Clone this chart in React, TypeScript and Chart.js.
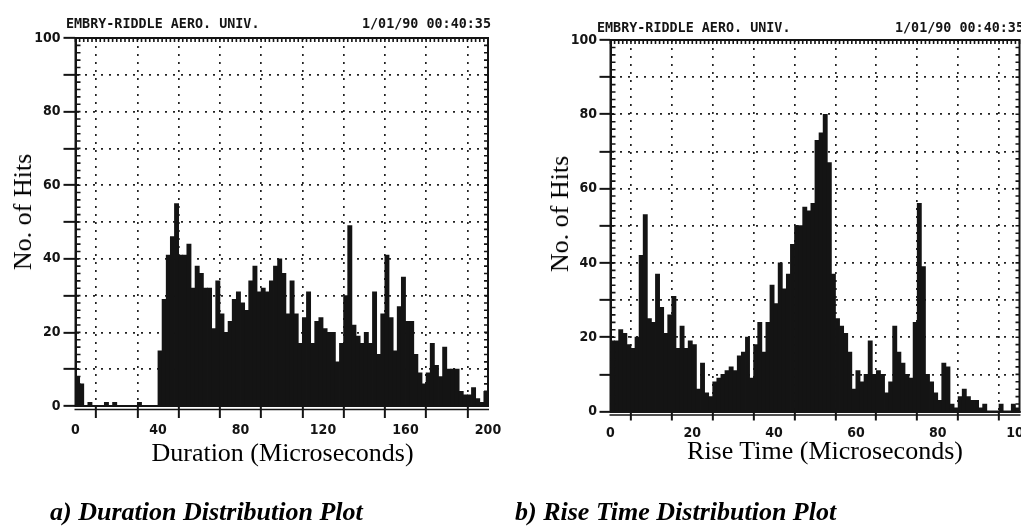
import React, { useEffect, useRef } from "react";
import { Chart, registerables } from "chart.js";

Chart.register(...registerables);

// ---------- data ----------
const headerLeftText = "EMBRY-RIDDLE AERO. UNIV.";
const headerDateText = "1/01/90 00:40:35";

// Duration histogram: 100 bins of 2 microseconds, 0..200
const durationBinWidth = 2;
const durationCounts = [
  8, 6, 0, 1, 0, 0, 0, 1, 0, 1,
  0, 0, 0, 0, 0, 1, 0, 0, 0, 0,
  15, 29, 41, 46, 55, 41, 41, 44, 32, 38,
  36, 32, 32, 21, 34, 25, 20, 23, 29, 31,
  28, 26, 34, 38, 31, 32, 31, 34, 38, 40,
  36, 25, 34, 25, 17, 24, 31, 17, 23, 24,
  21, 20, 20, 12, 17, 30, 49, 22, 19, 17,
  20, 17, 31, 14, 25, 41, 24, 15, 27, 35,
  23, 23, 14, 9, 6, 9, 17, 11, 8, 16,
  10, 10, 10, 4, 3, 3, 5, 2, 1, 4,
];
const durationXMax = 200;
const durationGridStep = 20;
const durationLabelStep = 40;

// Rise time histogram: 100 bins of 1 microsecond, 0..100
const riseBinWidth = 1;
const riseCounts = [
  19, 19, 22, 21, 18, 17, 20, 42, 53, 25,
  24, 37, 28, 21, 26, 31, 17, 23, 17, 19,
  18, 6, 13, 5, 4, 8, 9, 10, 11, 12,
  11, 15, 16, 20, 9, 18, 24, 16, 24, 34,
  29, 40, 33, 37, 45, 50, 50, 55, 54, 56,
  73, 75, 80, 67, 37, 25, 23, 21, 16, 6,
  11, 8, 10, 19, 10, 11, 10, 5, 8, 23,
  16, 13, 10, 9, 24, 56, 39, 10, 8, 5,
  3, 13, 12, 2, 1, 4, 6, 4, 3, 3,
  1, 2, 0, 0, 0, 2, 0, 0, 2, 1,
];
const riseXMax = 100;
const riseGridStep = 10;
const riseLabelStep = 20;

const yMax = 100;
const yGridStep = 10;
const yLabelStep = 20;

const yTitle = "No. of Hits";
const durationTitle = "Duration (Microseconds)";
const riseTitle = "Rise Time (Microseconds)";
const captionA = "a) Duration Distribution Plot";
const captionB = "b) Rise Time Distribution Plot";

// ---------- styling ----------
const INK = "#141414";
const tickFont = { family: "'DejaVu Sans Condensed', 'DejaVu Sans Mono', monospace", size: 14, weight: "bold" as const };

type Frame = { left: number; right: number; top: number; bottom: number };

const framePlugin = {
  id: "frame",
  afterDatasetsDraw(chart: any, _args: any, opts: any) {
    const { ctx, chartArea: a, scales } = chart;
    const x = scales.x;
    const y = scales.y;
    ctx.save();
    ctx.strokeStyle = INK;
    ctx.lineWidth = 2;
    ctx.strokeRect(a.left, a.top, a.right - a.left, a.bottom - a.top);
    ctx.lineWidth = 1.5;
    ctx.beginPath();
    ctx.moveTo(a.left - 1, a.bottom + 3.5);
    ctx.lineTo(a.right + 1, a.bottom + 3.5);
    ctx.stroke();
    ctx.lineWidth = 1.6;
    ctx.beginPath();
    for (let v = y.min; v <= y.max; v += opts.minorY) {
      const py = y.getPixelForValue(v);
      ctx.moveTo(a.left, py);
      ctx.lineTo(a.left + 5, py);
      ctx.moveTo(a.right - 4, py);
      ctx.lineTo(a.right, py);
    }
    for (let v = x.min; v <= x.max; v += opts.minorX) {
      const px = x.getPixelForValue(v);
      ctx.moveTo(px, a.top);
      ctx.lineTo(px, a.top + 4);
    }
    ctx.stroke();
    ctx.restore();
  },
};

function buildConfig(
  counts: number[],
  binWidth: number,
  xMax: number,
  xStep: number,
  xLabelStep: number,
  canvasW: number,
  canvasH: number,
  f: Frame,
  yTick: { len: number; pad: number },
  xTick: { len: number; pad: number },
  minorX: number
): any {
  const data = counts.map((c, i) => ({ x: i * binWidth + binWidth / 2, y: c }));
  return {
    type: "bar",
    data: {
      datasets: [
        {
          data,
          backgroundColor: INK,
          borderWidth: 0,
          barPercentage: 1,
          categoryPercentage: 1,
          inflateAmount: 0.4,
        },
      ],
    },
    options: {
      animation: false,
      responsive: false,
      events: [],
      layout: { padding: { left: 0, top: f.top, right: canvasW - f.right, bottom: 0 } },
      plugins: {
        legend: { display: false },
        tooltip: { enabled: false },
        frame: { minorX, minorY: 2 },
      },
      scales: {
        x: {
          type: "linear",
          min: 0,
          max: xMax,
          offset: false,
          afterFit: (s: any) => {
            s.height = canvasH - f.bottom;
          },
          ticks: {
            stepSize: xStep,
            autoSkip: false,
            maxRotation: 0,
            minRotation: 0,
            padding: xTick.pad,
            color: INK,
            font: tickFont,
            callback: (v: any) => (Number(v) % xLabelStep === 0 ? String(v) : ""),
          },
          grid: {
            color: "#222",
            lineWidth: 1.7,
            drawTicks: true,
            tickLength: xTick.len,
            tickWidth: 2,
            tickColor: INK,
          },
          border: { display: true, color: INK, width: 2, dash: [2, 6] },
        },
        y: {
          type: "linear",
          min: 0,
          max: yMax,
          afterFit: (s: any) => {
            s.width = f.left;
          },
          ticks: {
            stepSize: yGridStep,
            autoSkip: false,
            padding: yTick.pad,
            color: INK,
            font: tickFont,
            callback: (v: any) => (Number(v) % yLabelStep === 0 ? String(v) : ""),
          },
          grid: {
            color: "#222",
            lineWidth: 1.7,
            drawTicks: true,
            tickLength: yTick.len,
            tickWidth: 2,
            tickColor: INK,
          },
          border: { display: true, color: INK, width: 2, dash: [2, 6] },
        },
      },
    },
    plugins: [framePlugin],
  };
}

function ChartCanvas(props: { left: number; width: number; height: number; config: any }) {
  const ref = useRef<HTMLCanvasElement | null>(null);
  useEffect(() => {
    if (!ref.current) return;
    const chart = new Chart(ref.current, props.config);
    return () => chart.destroy();
  }, []);
  return (
    <canvas
      ref={ref}
      width={props.width}
      height={props.height}
      style={{ position: "absolute", left: props.left, top: 0, width: props.width, height: props.height }}
    />
  );
}

const monoHeader: React.CSSProperties = {
  position: "absolute",
  fontFamily: "'DejaVu Sans Mono', monospace",
  fontWeight: "bold",
  fontSize: 13.4,
  lineHeight: "14px",
  color: INK,
  whiteSpace: "nowrap",
};

const serifTitle: React.CSSProperties = {
  position: "absolute",
  fontFamily: "'Liberation Serif', 'Times New Roman', serif",
  fontSize: 26,
  lineHeight: "28px",
  color: "#000",
  whiteSpace: "nowrap",
  transform: "translate(-50%, -50%)",
};

const captionStyle: React.CSSProperties = {
  position: "absolute",
  fontFamily: "'Liberation Serif', 'Times New Roman', serif",
  fontSize: 26,
  fontWeight: "bold",
  fontStyle: "italic",
  lineHeight: "30px",
  color: "#000",
  whiteSpace: "nowrap",
};

export default function App() {
  const H = 531;
  const leftW = 510;
  const rightLeft = 510;
  const rightW = 530;

  const leftConfig = buildConfig(
    durationCounts,
    durationBinWidth,
    durationXMax,
    durationGridStep,
    durationLabelStep,
    leftW,
    H,
    { left: 75.5, right: 488, top: 38, bottom: 406 },
    { len: 12, pad: 3 },
    { len: 12, pad: 4 },
    2
  );
  const rightConfig = buildConfig(
    riseCounts,
    riseBinWidth,
    riseXMax,
    riseGridStep,
    riseLabelStep,
    rightW,
    H,
    { left: 100.5, right: 509.5, top: 40, bottom: 411.5 },
    { len: 11, pad: 2.5 },
    { len: 9, pad: 4.5 },
    1
  );

  return (
    <div style={{ position: "absolute", left: 0, top: 0, width: 1021, height: 531, overflow: "hidden", background: "#fff" }}>
      <ChartCanvas left={0} width={leftW} height={H} config={leftConfig} />
      <ChartCanvas left={rightLeft} width={rightW} height={H} config={rightConfig} />

      <div style={{ ...monoHeader, left: 66, top: 17 }}>{headerLeftText}</div>
      <div style={{ ...monoHeader, left: 362, top: 17 }}>{headerDateText}</div>
      <div style={{ ...monoHeader, left: 597, top: 21 }}>{headerLeftText}</div>
      <div style={{ ...monoHeader, left: 895, top: 21 }}>{headerDateText}</div>

      <div style={{ ...serifTitle, left: 22.5, top: 212, transform: "translate(-50%, -50%) rotate(-90deg)" }}>{yTitle}</div>
      <div style={{ ...serifTitle, left: 560, top: 214, transform: "translate(-50%, -50%) rotate(-90deg)" }}>{yTitle}</div>
      <div style={{ ...serifTitle, left: 282.5, top: 453 }}>{durationTitle}</div>
      <div style={{ ...serifTitle, left: 825, top: 451 }}>{riseTitle}</div>

      <div style={{ ...captionStyle, left: 50, top: 497 }}>{captionA}</div>
      <div style={{ ...captionStyle, left: 515, top: 497 }}>{captionB}</div>
    </div>
  );
}
